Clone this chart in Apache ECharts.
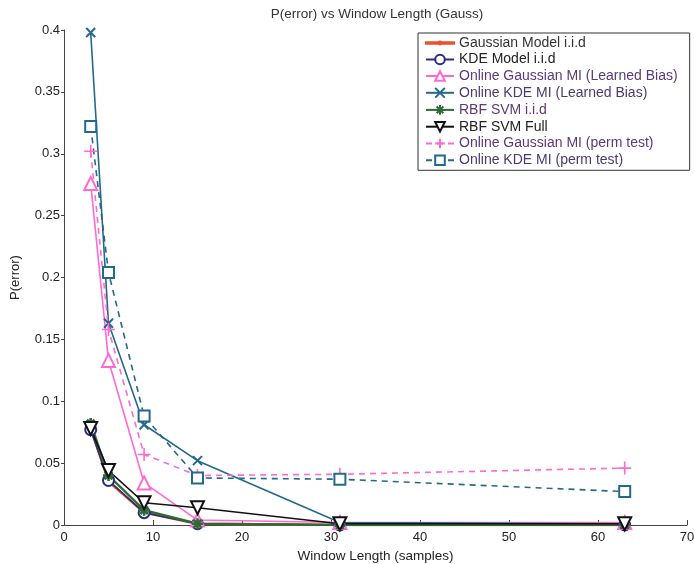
<!DOCTYPE html>
<html>
<head>
<meta charset="utf-8">
<script src="https://cdn.jsdelivr.net/npm/echarts@6/dist/echarts.min.js"></script>
<style>
  html, body { margin: 0; padding: 0; background: #fff; }
  #chart { width: 694px; height: 564px; }
</style>
</head>
<body>
<div id="chart"></div>
<script>
// Window lengths (samples) at which each method was evaluated
const windowLengths = [3, 5, 9, 15, 31, 63];

// P(error) per method
const gaussModelIid   = [0.078, 0.035, 0.010, 0.001, 0.000, 0.000];
const kdeModelIid     = [0.077, 0.036, 0.010, 0.001, 0.000, 0.000];
const onlineGaussLB   = [0.276, 0.133, 0.034, 0.004, 0.002, 0.002];
const onlineKdeLB     = [0.398, 0.163, 0.081, 0.052, 0.002, 0.001];
const rbfSvmIid       = [0.082, 0.040, 0.012, 0.001, 0.000, 0.000];
const rbfSvmFull      = [0.078, 0.044, 0.018, 0.014, 0.001, 0.001];
const onlineGaussPerm = [0.302, 0.158, 0.057, 0.040, 0.041, 0.046];
const onlineKdePerm   = [0.322, 0.204, 0.088, 0.038, 0.037, 0.027];

const yTicks = [0, 0.05, 0.1, 0.15, 0.2, 0.25, 0.3, 0.35, 0.4];

const pairs = ys => windowLengths.map((x, i) => [x, ys[i]]);

const FONT = '"Liberation Sans", Arial, sans-serif';
const PLUS  = 'path://M5,0L5,10M0,5L10,5';
const CROSS = 'path://M0,0L10,10M10,0L0,10';
const STAR  = 'path://M5,0L5,10M0,5L10,5M1.5,1.5L8.5,8.5M8.5,1.5L1.5,8.5';
// legend key for the dotted model line: thin bar with a small dot in the middle
const DOT_LINE = 'path://M0,0M28,12M0,5.3L28,5.3L28,6.7L0,6.7ZM12.6,6A1.4,1.4 0 1 1 15.4,6A1.4,1.4 0 1 1 12.6,6Z';

function mk(name, data, color, opts) {
  opts = opts || {};
  return {
    name: name,
    type: 'line',
    data: pairs(data),
    symbol: opts.symbol,
    symbolSize: opts.size || 11,
    symbolRotate: opts.rotate || 0,
    showAllSymbol: true,
    lineStyle: { color: color, width: opts.width || 1.6, type: opts.dash ? [6, 5] : 'solid' },
    itemStyle: {
      color: opts.fill || color,
      borderColor: color,
      borderWidth: opts.bw || 1.6
    },
    emphasis: { disabled: true },
    animation: false,
    z: opts.z || 2
  };
}

const series = [
  mk('Gaussian Model i.i.d', gaussModelIid, '#e8532b', { symbol: 'circle', size: 4, width: 2.4, bw: 0.5 }),
  mk('KDE Model i.i.d', kdeModelIid, '#2a2d7c', { symbol: 'emptyCircle', size: 11 }),
  mk('Online Gaussian MI (Learned Bias)', onlineGaussLB, '#ff6ad0', { symbol: 'emptyTriangle', size: 13 }),
  mk('Online KDE MI (Learned Bias)', onlineKdeLB, '#23698c', { symbol: CROSS, size: 9, fill: 'none', bw: 2 }),
  mk('RBF SVM i.i.d', rbfSvmIid, '#2f6b35', { symbol: STAR, size: 11, fill: 'none', bw: 2.6, width: 2.4 }),
  mk('RBF SVM Full', rbfSvmFull, '#111', { symbol: 'emptyTriangle', rotate: 180, size: 13 }),
  mk('Online Gaussian MI (perm test)', onlineGaussPerm, '#ff6ad0', { symbol: PLUS, size: 13, fill: 'none', dash: true }),
  mk('Online KDE MI (perm test)', onlineKdePerm, '#23698c', { symbol: 'emptyRect', size: 11, dash: true })
];

const legendColors = ['#333', '#222', '#5a3a7a', '#4a3a70', '#5a3a78', '#222', '#5a3a7a', '#4a3a70'];

const chart = echarts.init(document.getElementById('chart'), null, { renderer: 'canvas' });
chart.setOption({
  animation: false,
  backgroundColor: '#fff',
  title: {
    text: 'P(error) vs Window Length (Gauss)',
    left: 372, top: 2, textAlign: 'center',
    textStyle: { fontFamily: FONT, fontSize: 13.5, fontWeight: 'normal', color: '#333' }
  },
  grid: { left: 64, right: 7, top: 30, bottom: 39, containLabel: false, outerBoundsMode: 'none' },
  legend: {
    orient: 'vertical',
    left: 418, top: 33,
    padding: [3, 12, 3, 7],
    itemGap: 2.5,
    itemWidth: 28,
    itemHeight: 12,
    borderColor: '#333', borderWidth: 1,
    backgroundColor: '#fff',
    textStyle: { fontFamily: FONT, fontSize: 14 },
    data: series.map((s, i) => {
      const d = { name: s.name, textStyle: { color: legendColors[i] } };
      if (i === 0) d.icon = DOT_LINE;
      return d;
    })
  },
  xAxis: {
    type: 'value', min: 0, max: 70, interval: 10,
    name: 'Window Length (samples)', nameLocation: 'middle', nameGap: 21,
    nameTextStyle: { fontFamily: FONT, fontSize: 13.5, color: '#222' },
    axisLine: { lineStyle: { color: '#444', width: 1 } },
    axisTick: { inside: true, length: 5, lineStyle: { color: '#444' } },
    axisLabel: { fontFamily: FONT, fontSize: 13, color: '#222', margin: 6 },
    splitLine: { show: false }
  },
  yAxis: {
    type: 'value', min: 0, max: 0.4, interval: 0.05,
    name: 'P(error)', nameLocation: 'middle', nameGap: 42, nameRotate: 90,
    nameTextStyle: { fontFamily: FONT, fontSize: 13, color: '#222' },
    axisLine: { show: true, lineStyle: { color: '#444', width: 1 } },
    axisTick: { show: true, inside: false, length: 3, lineStyle: { color: '#444' } },
    axisLabel: {
      fontFamily: FONT, fontSize: 13, color: '#222', margin: 4,
      formatter: v => { const t = yTicks.find(k => Math.abs(k - v) < 1e-9); return t === undefined ? '' : String(t); }
    },
    splitLine: { show: false }
  },
  series: series
});
</script>
</body>
</html>
